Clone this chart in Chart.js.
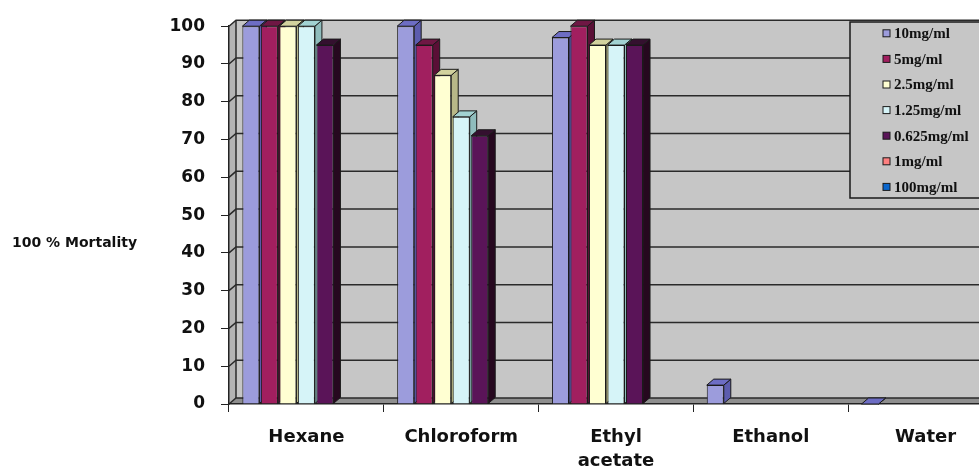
<!DOCTYPE html>
<html>
<head>
<meta charset="utf-8">
<script src="https://cdn.jsdelivr.net/npm/chart.js@4.4.0/dist/chart.umd.min.js"></script>
<style>
  html, body { margin: 0; padding: 0; background: #fff; overflow: hidden; }
  #wrap { width: 979px; height: 474px; overflow: hidden; }
</style>
</head>
<body>
<div id="wrap"><canvas id="mortalityChart" width="1003" height="474"></canvas></div>
<script>
// Chart data
const solvents = ['Hexane', 'Chloroform', ['Ethyl', 'acetate'], 'Ethanol', 'Water'];
const doseLabels = ['10mg/ml', '5mg/ml', '2.5mg/ml', '1.25mg/ml', '0.625mg/ml', '1mg/ml', '100mg/ml'];
const mort10 = [100, 100, 97, 5, 0];
const mort5 = [100, 95, 100, null, null];
const mort2_5 = [100, 87, 95, null, null];
const mort1_25 = [100, 76, 95, null, null];
const mort0_625 = [95, 71, 95, null, null];
const mort1 = [null, null, null, null, null];
const mort100 = [null, null, null, null, null];
const yTicks = [0, 10, 20, 30, 40, 50, 60, 70, 80, 90, 100];
const yTitle = '100 % Mortality';

// Colours: front face, side face, top face
const frontColors = ['#9c9cdc', '#a11f5f', '#ffffd2', '#d6f4f8', '#5a1458', '#ff8080', '#0a66cc'];
const sideColors = ['#5c5cae', '#5a0f36', '#b8b888', '#8fbcbc', '#26081f', '#b05050', '#04407e'];
const topColors = ['#6d6dc4', '#6f1744', '#d2d29e', '#a2d2d2', '#34102f', '#c86060', '#0650a0'];

const DX = 7;
const DY = 6;

// Walls, floor and back gridlines
const wallPlugin = {
  id: 'wallPlugin',
  beforeDraw(chart) {
    const ctx = chart.ctx;
    const area = chart.chartArea;
    const yScale = chart.scales.y;
    ctx.save();
    // back wall
    ctx.fillStyle = '#c6c6c6';
    ctx.fillRect(area.left + DX, area.top - DY, area.right - area.left, area.bottom - area.top);
    // left side wall
    ctx.fillStyle = '#b4b4b4';
    ctx.beginPath();
    ctx.moveTo(area.left, area.top);
    ctx.lineTo(area.left + DX, area.top - DY);
    ctx.lineTo(area.left + DX, area.bottom - DY);
    ctx.lineTo(area.left, area.bottom);
    ctx.closePath();
    ctx.fill();
    // floor
    ctx.fillStyle = '#8e8e8e';
    ctx.beginPath();
    ctx.moveTo(area.left, area.bottom);
    ctx.lineTo(area.left + DX, area.bottom - DY);
    ctx.lineTo(area.right + DX, area.bottom - DY);
    ctx.lineTo(area.right, area.bottom);
    ctx.closePath();
    ctx.fill();
    // gridlines on the back wall and side wall
    ctx.strokeStyle = '#2a2a2a';
    ctx.lineWidth = 1.5;
    yTicks.forEach((v) => {
      const py = yScale.getPixelForValue(v);
      ctx.beginPath();
      ctx.moveTo(area.left, py);
      ctx.lineTo(area.left + DX, py - DY);
      ctx.lineTo(area.right + DX, py - DY);
      ctx.stroke();
    });
    ctx.beginPath();
    ctx.moveTo(area.left + DX, area.top - DY);
    ctx.lineTo(area.left + DX, area.bottom - DY);
    ctx.stroke();
    ctx.restore();
  },
};

// Side and top faces of the columns
const bar3dPlugin = {
  id: 'bar3dPlugin',
  beforeDatasetsDraw(chart) {
    const ctx = chart.ctx;
    ctx.save();
    ctx.strokeStyle = '#1a1a1a';
    ctx.lineWidth = 1;
    chart.data.datasets.forEach((ds, i) => {
      const meta = chart.getDatasetMeta(i);
      meta.data.forEach((bar, j) => {
        if (ds.data[j] === null) return;
        const p = bar.getProps(['x', 'y', 'base', 'width'], true);
        const l = p.x - p.width / 2;
        const r = p.x + p.width / 2;
        // side
        ctx.fillStyle = sideColors[i];
        ctx.beginPath();
        ctx.moveTo(r, p.y);
        ctx.lineTo(r + DX, p.y - DY);
        ctx.lineTo(r + DX, p.base - DY);
        ctx.lineTo(r, p.base);
        ctx.closePath();
        ctx.fill();
        ctx.stroke();
        // top
        ctx.fillStyle = topColors[i];
        ctx.beginPath();
        ctx.moveTo(l, p.y);
        ctx.lineTo(l + DX, p.y - DY);
        ctx.lineTo(r + DX, p.y - DY);
        ctx.lineTo(r, p.y);
        ctx.closePath();
        ctx.fill();
        ctx.stroke();
      });
    });
    ctx.restore();
  },
};

// Legend box and y title
const annotationPlugin = {
  id: 'annotationPlugin',
  afterDraw(chart) {
    const ctx = chart.ctx;
    ctx.save();
    // y title
    ctx.fillStyle = '#111';
    ctx.font = 'bold 14px "DejaVu Sans"';
    ctx.textAlign = 'left';
    ctx.textBaseline = 'middle';
    ctx.fillText(yTitle, 12, 243);
    // legend
    ctx.fillStyle = '#c6c6c6';
    ctx.fillRect(850, 22, 160, 176);
    ctx.strokeStyle = '#1a1a1a';
    ctx.lineWidth = 1.5;
    ctx.strokeRect(850, 22, 160, 176);
    ctx.font = 'bold 15px "Liberation Serif"';
    doseLabels.forEach((label, i) => {
      const cy = 33.3 + i * 25.6;
      ctx.fillStyle = frontColors[i];
      ctx.fillRect(883, cy - 3.5, 7, 7);
      ctx.lineWidth = 1;
      ctx.strokeRect(883, cy - 3.5, 7, 7);
      ctx.fillStyle = '#111';
      ctx.fillText(label, 894, cy + 1);
    });
    ctx.restore();
  },
};

const seriesData = [mort10, mort5, mort2_5, mort1_25, mort0_625, mort1, mort100];

function createChart() {
  const ctx = document.getElementById('mortalityChart').getContext('2d');
  /* global Chart */
  return new Chart(ctx, {
    type: 'bar',
    data: {
      labels: solvents,
      datasets: seriesData.map((data, i) => ({
        label: doseLabels[i],
        data: data,
        backgroundColor: frontColors[i],
        borderColor: '#1a1a1a',
        borderWidth: 1,
        barPercentage: 0.92,
        categoryPercentage: 0.837,
      })),
    },
    options: {
      responsive: false,
      animation: false,
      devicePixelRatio: 1,
      layout: { padding: { top: 24, left: 0, right: 0, bottom: 0 } },
      plugins: {
        legend: { display: false },
        tooltip: { enabled: false },
      },
      scales: {
        x: {
          offset: true,
          grid: {
            offset: true,
            drawOnChartArea: false,
            drawTicks: true,
            tickLength: 8,
            color: '#222',
          },
          border: { color: '#222', width: 1.5 },
          ticks: {
            color: '#111',
            padding: 13,
            maxRotation: 0,
            autoSkip: false,
            font: { family: 'DejaVu Sans', weight: 'bold', size: 18, lineHeight: 1.333 },
          },
          afterFit(scale) {
            scale.height = 70;
          },
        },
        y: {
          min: 0,
          max: 100,
          afterBuildTicks(scale) {
            scale.ticks = yTicks.map((v) => ({ value: v }));
          },
          grid: {
            drawOnChartArea: false,
            drawTicks: true,
            tickLength: 8,
            color: '#222',
          },
          border: { color: '#222', width: 1.5 },
          ticks: {
            color: '#111',
            padding: 16,
            font: { family: 'DejaVu Sans', weight: 'bold', size: 17 },
          },
          afterFit(scale) {
            scale.width = 229;
          },
        },
      },
    },
    plugins: [wallPlugin, bar3dPlugin, annotationPlugin],
  });
}

createChart();
</script>
</body>
</html>
